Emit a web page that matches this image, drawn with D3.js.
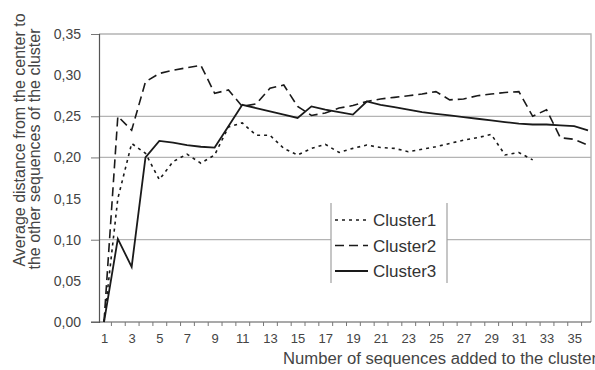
<!DOCTYPE html>
<html>
<head>
<meta charset="utf-8">
<script src="https://cdn.jsdelivr.net/npm/d3@7"></script>
<style>
  body { margin: 0; background: #fff; }
  svg { display: block; font-family: "Liberation Sans", Arial, sans-serif; }
</style>
</head>
<body>
<div id="chart"></div>
<script>
// Data
var categories = [1, 2, 3, 4, 5, 6, 7, 8, 9, 10, 11, 12, 13, 14, 15, 16, 17, 18,
    19, 20, 21, 22, 23, 24, 25, 26, 27, 28, 29, 30, 31, 32, 33, 34, 35, 36];

var cluster1 = [0.000, 0.150, 0.217, 0.205, 0.173, 0.195, 0.204, 0.193, 0.203, 0.237,
    0.242, 0.227, 0.227, 0.211, 0.203, 0.211, 0.216, 0.206, 0.211, 0.215,
    0.212, 0.211, 0.207, 0.210, 0.213, 0.217, 0.221, 0.224, 0.228, 0.203,
    0.206, 0.197];

var cluster2 = [0.000, 0.250, 0.233, 0.292, 0.302, 0.306, 0.309, 0.312, 0.278, 0.282,
    0.262, 0.265, 0.284, 0.288, 0.262, 0.251, 0.254, 0.260, 0.263, 0.268,
    0.271, 0.273, 0.275, 0.277, 0.280, 0.270, 0.271, 0.275, 0.277, 0.279,
    0.280, 0.250, 0.258, 0.224, 0.222, 0.215];

var cluster3 = [0.000, 0.101, 0.067, 0.200, 0.220, 0.218, 0.215, 0.213, 0.212, 0.238,
    0.264, 0.260, 0.256, 0.252, 0.248, 0.262, 0.258, 0.255, 0.252, 0.268,
    0.264, 0.261, 0.258, 0.255, 0.253, 0.251, 0.249, 0.247, 0.245, 0.243,
    0.241, 0.240, 0.240, 0.239, 0.238, 0.233];

var seriesNames = ["Cluster1", "Cluster2", "Cluster3"];
var yTicks = [0, 0.05, 0.10, 0.15, 0.20, 0.25, 0.30, 0.35];
var gridValues = [0.10, 0.20, 0.25];
var xLabels = [1, 3, 5, 7, 9, 11, 13, 15, 17, 19, 21, 23, 25, 27, 29, 31, 33, 35];

// Frame
var W = 595, H = 370;
var plot = { left: 99, top: 34, right: 591, bottom: 322 };

var svg = d3.select("#chart").append("svg")
    .attr("width", W)
    .attr("height", H);

// Scales
var x = d3.scaleLinear()
    .domain([1, 36])
    .range([104, 588]);
var y = d3.scaleLinear()
    .domain([0, 0.35])
    .range([plot.bottom, plot.top]);

var comma = function (d) { return d3.format(".2f")(d).replace(".", ","); };

// Gridlines
svg.append("g")
    .selectAll("line")
    .data(gridValues)
    .enter().append("line")
    .attr("x1", plot.left)
    .attr("x2", plot.right)
    .attr("y1", function (d) { return y(d); })
    .attr("y2", function (d) { return y(d); })
    .attr("stroke", "#b4b4b4")
    .attr("stroke-width", 1.2);

// Top and right border of plot area
svg.append("path")
    .attr("d", "M" + plot.left + "," + plot.top + "H" + plot.right + "V" + plot.bottom)
    .attr("fill", "none")
    .attr("stroke", "#b4b4b4")
    .attr("stroke-width", 1.4);

// Y axis
var yAxis = svg.append("g")
    .attr("transform", "translate(" + plot.left + ",0)")
    .call(d3.axisLeft(y).tickValues(yTicks).tickSize(8).tickPadding(10).tickFormat(comma));
yAxis.select(".domain").attr("stroke", "#555").attr("stroke-width", 1.2);
yAxis.selectAll(".tick line")
    .attr("stroke", "#777")
    .filter(function (d) { return d !== 0 && d !== 0.35 && gridValues.indexOf(d) < 0; })
    .remove();
yAxis.selectAll("text")
    .attr("fill", "#444")
    .style("font-size", "14px")
    .style("font-family", "Liberation Sans, Arial, sans-serif");

// X axis: labels at odd categories, tick marks between categories
var xAxis = svg.append("g")
    .attr("transform", "translate(0," + plot.bottom + ")")
    .call(d3.axisBottom(x).tickValues(xLabels).tickSize(0).tickPadding(12).tickFormat(d3.format("d")));
xAxis.select(".domain").remove();
xAxis.selectAll("text")
    .attr("fill", "#444")
    .style("font-size", "13px")
    .style("font-family", "Liberation Sans, Arial, sans-serif");

var tickMarks = categories.slice(0, -1).map(function (d) { return d + 0.5; });
var xTicks = svg.append("g")
    .attr("transform", "translate(0," + plot.bottom + ")")
    .call(d3.axisBottom(x).tickValues(tickMarks).tickSize(4).tickSizeOuter(0).tickFormat(""));
xTicks.select(".domain")
    .attr("d", "M" + (plot.left - 8) + ",0H" + plot.right)
    .attr("stroke", "#555")
    .attr("stroke-width", 1.2);
xTicks.selectAll(".tick line").attr("stroke", "#777");

// Lines
var styles = [
    { data: cluster1, dash: "3,4", width: 1.6 },
    { data: cluster2, dash: "9,5", width: 1.6 },
    { data: cluster3, dash: null, width: 1.8 }
];

var line = d3.line()
    .x(function (d, i) { return x(categories[i]); })
    .y(function (d) { return y(d); });

styles.forEach(function (s) {
    svg.append("path")
        .datum(s.data)
        .attr("d", line)
        .attr("fill", "none")
        .attr("stroke", "#1a1a1a")
        .attr("stroke-width", s.width)
        .attr("stroke-dasharray", s.dash);
});

// Legend
var legend = svg.append("g");
legend.append("rect")
    .attr("x", 331).attr("y", 203)
    .attr("width", 116).attr("height", 80)
    .attr("fill", "#fff");
legend.selectAll(".side")
    .data([331, 447])
    .enter().append("line")
    .attr("x1", function (d) { return d; })
    .attr("x2", function (d) { return d; })
    .attr("y1", 203).attr("y2", 283)
    .attr("stroke", "#a0a0a0")
    .attr("stroke-width", 1.2);

var rows = legend.selectAll(".row")
    .data(seriesNames)
    .enter().append("g")
    .attr("transform", function (d, i) { return "translate(0," + (220 + i * 25.5) + ")"; });
rows.append("line")
    .attr("x1", 335).attr("x2", 368)
    .attr("stroke", "#1a1a1a")
    .attr("stroke-width", function (d, i) { return styles[i].width; })
    .attr("stroke-dasharray", function (d, i) { return styles[i].dash; });
rows.append("text")
    .attr("x", 373)
    .attr("y", 6)
    .attr("fill", "#333")
    .style("font-size", "17px")
    .text(function (d) { return d; });

// Axis titles
svg.append("text")
    .attr("x", 283)
    .attr("y", 364)
    .attr("fill", "#444")
    .style("font-size", "16px")
    .attr("textLength", 314)
    .attr("lengthAdjust", "spacingAndGlyphs")
    .text("Number of sequences added to the cluster");

svg.append("text")
    .attr("transform", "translate(25,140) rotate(-90)")
    .attr("text-anchor", "middle")
    .attr("fill", "#444")
    .style("font-size", "16px")
    .text("Average distance from the center to");

svg.append("text")
    .attr("transform", "translate(40,149) rotate(-90)")
    .attr("text-anchor", "middle")
    .attr("fill", "#444")
    .style("font-size", "16px")
    .text("the other sequences of the cluster");
</script>
</body>
</html>
